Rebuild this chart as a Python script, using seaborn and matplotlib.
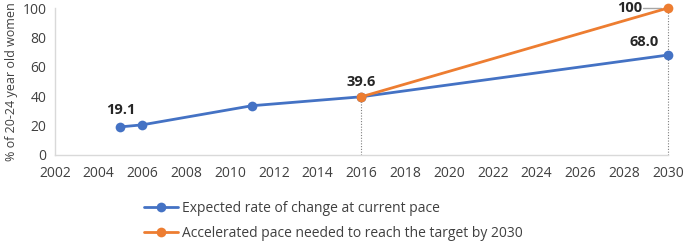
import matplotlib.pyplot as plt
import pandas as pd
import seaborn as sns

years_current = [2005, 2006, 2011, 2016, 2030]
values_current = [19.1, 20.5, 33.5, 39.6, 68.0]
years_accel = [2016, 2030]
values_accel = [39.6, 100]

label_current = "Expected rate of change at current pace"
label_accel = "Accelerated pace needed to reach the target by 2030"

data = pd.concat([
    pd.DataFrame({"Year": years_current, "Value": values_current, "Series": label_current}),
    pd.DataFrame({"Year": years_accel, "Value": values_accel, "Series": label_accel}),
])

sns.set_style("white")
plt.rcParams["font.family"] = ["Open Sans", "DejaVu Sans"]

blue = "#4472C4"
orange = "#ED7D31"

fig = plt.figure(figsize=(6.85, 2.44), dpi=100)
ax = fig.add_axes([0.080, 0.365, 0.895, 0.602])

# dotted drop lines
for yr, val in [(2016, 39.6), (2030, 100)]:
    ax.plot([yr, yr], [0, val], color="#7f7f7f", lw=0.8, ls=(0, (1, 1.5)),
            zorder=1, clip_on=False)

sns.lineplot(data=data, x="Year", y="Value", hue="Series",
             palette=[blue, orange], marker="o", markersize=7,
             markeredgewidth=0, linewidth=2, ax=ax, zorder=3, clip_on=False)

ax.set_xlim(2002, 2030)
ax.set_ylim(0, 100)
ax.set_xticks(range(2002, 2031, 2))
ax.set_yticks(range(0, 101, 20))
ax.tick_params(axis="both", labelsize=10, colors="#404040", length=0)
ax.tick_params(axis="x", pad=8)
ax.tick_params(axis="y", pad=6)
ax.set_xlabel("")
ax.set_ylabel("% of 20-24 year old women", fontsize=9, color="#404040", labelpad=3)

for side in ["top", "right"]:
    ax.spines[side].set_visible(False)
for side in ["left", "bottom"]:
    ax.spines[side].set_color("#d9d9d9")
    ax.spines[side].set_linewidth(1)

lbl = dict(fontsize=10.5, fontweight="bold", color="#262626", ha="center", va="bottom")
ax.text(2005, 25.5, "19.1", **lbl)
ax.text(2016, 45, "39.6", **lbl)
ax.text(2028.9, 72, "68.0", **lbl)
ax.text(2028.25, 100, "100", fontsize=10.5, fontweight="bold", color="#262626",
        ha="center", va="center")
ax.plot([2028.85, 2029.7], [100, 100], color="#a6a6a6", lw=1, zorder=2, clip_on=False)

ax.legend(loc="upper left", bbox_to_anchor=(0.125, -0.23), frameon=False,
          fontsize=10, handlelength=2.45, labelspacing=0.7, handletextpad=0.3,
          labelcolor="#404040")

plt.savefig("out.png", dpi=100)
